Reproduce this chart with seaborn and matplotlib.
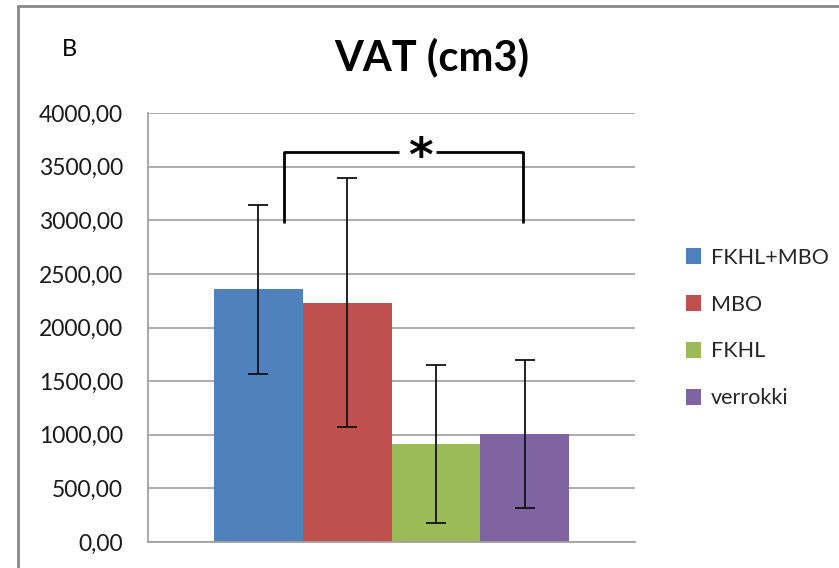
import matplotlib
matplotlib.use("Agg")
import matplotlib.pyplot as plt
from matplotlib.lines import Line2D
import seaborn as sns
import pandas as pd

# Group means and error bar half-widths (cm3)
groups = ["FKHL+MBO", "MBO", "FKHL", "verrokki"]
means = [2355, 2230, 917, 1008]
errors = [790, 1160, 737, 692]
colors = ["#4F81BD", "#C0504D", "#9BBB59", "#8064A2"]
yticks = [0, 500, 1000, 1500, 2000, 2500, 3000, 3500, 4000]
ytick_labels = ["0,00", "500,00", "1000,00", "1500,00", "2000,00",
                "2500,00", "3000,00", "3500,00", "4000,00"]

sns.set_theme(style="white")
plt.rcParams["font.family"] = ["Lato", "DejaVu Sans"]

W, H = 839, 568
fig = plt.figure(figsize=(W / 100, H / 100), dpi=100)
ax = fig.add_axes([148 / W, (H - 542) / H, (635 - 148) / W, (542 - 113) / H])

df = pd.DataFrame({"x": [""] * len(groups), "grupo": groups, "value": means})
sns.barplot(data=df, x="x", y="value", hue="grupo", hue_order=groups,
            palette=colors, width=0.73, errorbar=None, ax=ax,
            saturation=1, linewidth=0, legend=False)

# error bars centred on each bar
bars = ax.patches[:len(groups)]
centers = [b.get_x() + b.get_width() / 2 for b in bars]
ax.errorbar(centers, means, yerr=errors, fmt="none", ecolor="#111111",
            elinewidth=1.3, capsize=7.5, capthick=1.3, zorder=3)

ax.set_xlim(-0.5, 0.5)
ax.set_ylim(0, 4000)
ax.set_yticks(yticks)
ax.set_yticklabels(ytick_labels, fontsize=16.5, color="#1a1a1a")
ax.set_xticks([])
ax.set_xlabel("")
ax.set_ylabel("")
ax.tick_params(axis="y", length=0, pad=18)
ax.yaxis.grid(True, color="#a6a6a6", linewidth=1.3)
ax.set_axisbelow(True)
for side in ["top", "right"]:
    ax.spines[side].set_visible(False)
for side in ["left", "bottom"]:
    ax.spines[side].set_color("#a0a0a0")
    ax.spines[side].set_linewidth(1.3)

# significance bracket between FKHL+MBO and verrokki
bx0, bx1 = -0.221, 0.2705
ytop, ybot = 3640, 2970
ax.plot([bx0, bx0, 0.0155], [ybot, ytop, ytop], color="black", lw=2,
        solid_capstyle="butt", clip_on=False, zorder=4)
ax.plot([0.092, bx1, bx1], [ytop, ytop, ybot], color="black", lw=2,
        solid_capstyle="butt", clip_on=False, zorder=4)
ax.text(0.06, ytop - 60, "*", ha="center", va="center", fontsize=34,
        fontweight="bold", color="black", family="DejaVu Sans", zorder=4)

# legend to the right of the plot
handles = [plt.Rectangle((0, 0), 1, 1, facecolor=c, edgecolor="none") for c in colors]
fig.legend(handles, groups, loc="center left",
           bbox_to_anchor=(677 / W, 1 - 328 / H), frameon=False,
           fontsize=15.5, handlelength=0.72, handleheight=0.72,
           handletextpad=0.45, labelspacing=1.25, borderaxespad=0)

# titles
fig.text(432 / W, 1 - 57 / H, "VAT (cm3)", ha="center", va="center",
         fontsize=30, fontweight="bold", color="black")
fig.text(69 / W, 1 - 49 / H, "B", ha="center", va="center",
         fontsize=17, color="black")
fig.text(200 / W, 1 - 3 / H, "19", ha="center", va="bottom",
         fontsize=17, color="black")

# outer chart frame
fig.add_artist(Line2D([18 / W, 18 / W], [0, 1 - 6 / H], transform=fig.transFigure,
                      color="#8a8a8a", lw=2))
fig.add_artist(Line2D([18 / W, 1], [1 - 6 / H, 1 - 6 / H], transform=fig.transFigure,
                      color="#8a8a8a", lw=2))

fig.savefig("out.png", dpi=100, facecolor="white")
